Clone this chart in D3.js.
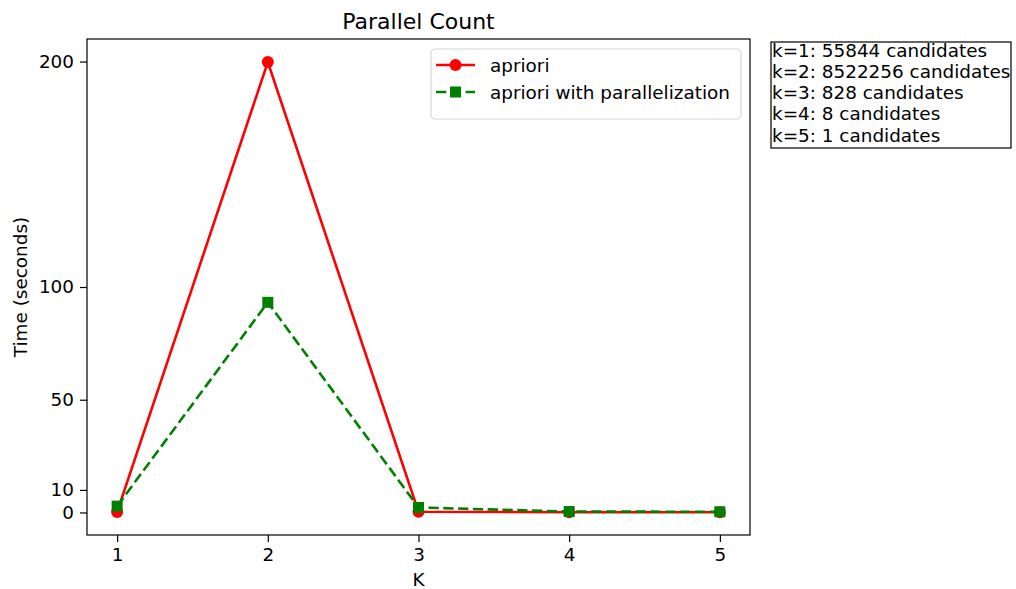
<!DOCTYPE html>
<html>
<head>
<meta charset="utf-8">
<script src="https://cdn.jsdelivr.net/npm/d3@7"></script>
<style>
  body { margin: 0; background: #fff; }
  text { font-family: 'DejaVu Sans', sans-serif; fill: #000; }
</style>
</head>
<body>
<svg id="chart" width="1016" height="589"></svg>
<script>
const kValues = [1, 2, 3, 4, 5];
const apriori = [0.2, 199.8, 0.3, 0.1, 0.1];
const aprioriParallel = [2.8, 93.2, 2.2, 0.4, 0.3];
const yTicks = [0, 10, 50, 100, 200];
const candidateNotes = [
  'k=1: 55844 candidates',
  'k=2: 8522256 candidates',
  'k=3: 828 candidates',
  'k=4: 8 candidates',
  'k=5: 1 candidates',
];
const seriesNames = ['apriori', 'apriori with parallelization'];

const svg = d3.select('#chart');
const margin = {top: 39, right: 266, bottom: 54, left: 87};
const width = +svg.attr('width');
const height = +svg.attr('height');
const chartRight = width - margin.right;
const chartBottom = height - margin.bottom;
const fontSize = '18.4px';
const dash = '10.3,4.5';

const xScale = d3.scaleLinear().domain([0.8, 5.2]).range([margin.left, chartRight]);
const yScale = d3.scaleLinear().domain([-10, 210]).range([chartBottom, margin.top]);

// axes
const xAxis = d3.axisBottom(xScale).tickValues(kValues).tickFormat(d3.format('d')).tickSizeOuter(0).tickSize(7).tickPadding(6);
const yAxis = d3.axisLeft(yScale).tickValues(yTicks).tickSizeOuter(0).tickSize(7).tickPadding(6);

svg.append('g')
  .attr('transform', `translate(0,${chartBottom})`)
  .call(xAxis)
  .call((g) => g.select('.domain').remove())
  .call((g) => g.selectAll('text').attr('font-size', fontSize).attr('font-family', 'DejaVu Sans').attr('fill', '#000'));

svg.append('g')
  .attr('transform', `translate(${margin.left},0)`)
  .call(yAxis)
  .call((g) => g.select('.domain').remove())
  .call((g) => g.selectAll('text').attr('font-size', fontSize).attr('font-family', 'DejaVu Sans').attr('fill', '#000'));

svg.selectAll('.tick line').attr('stroke', '#000').attr('stroke-width', 1.2);

svg.append('rect')
  .attr('x', margin.left)
  .attr('y', margin.top)
  .attr('width', chartRight - margin.left)
  .attr('height', chartBottom - margin.top)
  .attr('fill', 'none')
  .attr('stroke', '#000')
  .attr('stroke-width', 1.2);

// labels
svg.append('text')
  .attr('x', (margin.left + chartRight) / 2)
  .attr('y', 29)
  .attr('text-anchor', 'middle')
  .attr('font-size', '22px')
  .text('Parallel Count');

svg.append('text')
  .attr('x', (margin.left + chartRight) / 2)
  .attr('y', 586)
  .attr('text-anchor', 'middle')
  .attr('font-size', fontSize)
  .text('K');

svg.append('text')
  .attr('transform', `translate(27,${(margin.top + chartBottom) / 2}) rotate(-90)`)
  .attr('text-anchor', 'middle')
  .attr('font-size', fontSize)
  .text('Time (seconds)');

// lines
const line = d3.line().x((d, i) => xScale(kValues[i])).y((d) => yScale(d));

svg.append('path')
  .datum(apriori)
  .attr('d', line)
  .attr('fill', 'none')
  .attr('stroke', '#ff0000')
  .attr('stroke-width', 2.6);

svg.selectAll('.dot')
  .data(apriori)
  .join('circle')
  .attr('class', 'dot')
  .attr('cx', (d, i) => xScale(kValues[i]))
  .attr('cy', (d) => yScale(d))
  .attr('r', 6)
  .attr('fill', '#ff0000');

svg.append('path')
  .datum(aprioriParallel)
  .attr('d', line)
  .attr('fill', 'none')
  .attr('stroke', '#008000')
  .attr('stroke-width', 2.6)
  .attr('stroke-dasharray', dash);

const sq = 11;
svg.selectAll('.sq')
  .data(aprioriParallel)
  .join('rect')
  .attr('class', 'sq')
  .attr('x', (d, i) => xScale(kValues[i]) - sq / 2)
  .attr('y', (d) => yScale(d) - sq / 2)
  .attr('width', sq)
  .attr('height', sq)
  .attr('fill', '#008000');

// legend
const legend = svg.append('g').attr('transform', 'translate(431,49)');
legend.append('rect')
  .attr('width', 310)
  .attr('height', 70)
  .attr('rx', 4)
  .attr('fill', '#fff')
  .attr('fill-opacity', 0.8)
  .attr('stroke', '#d6d6d6')
  .attr('stroke-width', 1.2);

legend.append('line').attr('x1', 5).attr('x2', 44).attr('y1', 16).attr('y2', 16)
  .attr('stroke', '#ff0000').attr('stroke-width', 2.6);
legend.append('circle').attr('cx', 24.5).attr('cy', 16).attr('r', 6).attr('fill', '#ff0000');
legend.append('text').attr('x', 59).attr('y', 23).attr('font-size', fontSize).text(seriesNames[0]);

legend.append('line').attr('x1', 5).attr('x2', 44).attr('y1', 43).attr('y2', 43)
  .attr('stroke', '#008000').attr('stroke-width', 2.6).attr('stroke-dasharray', dash);
legend.append('rect').attr('x', 24.5 - sq / 2).attr('y', 43 - sq / 2).attr('width', sq).attr('height', sq).attr('fill', '#008000');
legend.append('text').attr('x', 59).attr('y', 50).attr('font-size', fontSize).text(seriesNames[1]);

// candidate box
const note = svg.append('g').attr('transform', 'translate(771,42)');
note.append('rect')
  .attr('width', 240)
  .attr('height', 106)
  .attr('fill', '#fff')
  .attr('stroke', '#000')
  .attr('stroke-width', 1.2);

note.selectAll('text')
  .data(candidateNotes)
  .join('text')
  .attr('x', 1)
  .attr('y', (d, i) => 14.5 + i * 21.3)
  .attr('font-size', fontSize)
  .text((d) => d);
</script>
</body>
</html>
